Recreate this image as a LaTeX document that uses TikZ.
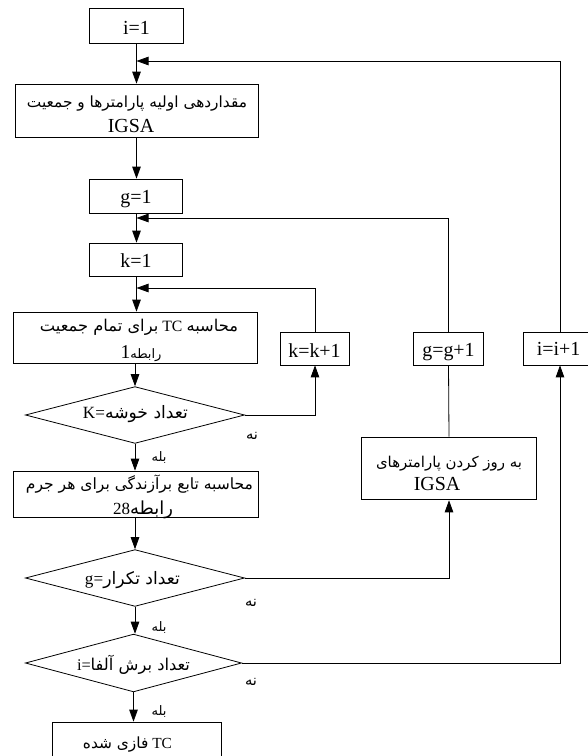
\documentclass[tikz,border=0pt]{standalone}
\usepackage{graphicx}
\usepackage{fontspec}
\setmainfont{Liberation Serif}
\newfontfamily\fa[Script=Arabic]{DejaVu Sans}
\TeXXeTstate=1
\usetikzlibrary{arrows.meta,shapes.geometric}
\newcommand\FA[1]{{\fa\beginR #1\endR}}
\newcommand\RW[2]{\resizebox{#1bp}{!}{#2}}
\newcommand\SZ[2]{{\fontsize{#1}{#1}\selectfont #2}}
\begin{document}
\begin{tikzpicture}[x=1bp,y=-1bp,
  box/.style={draw, line width=0.8bp, inner sep=0pt},
  dia/.style={draw, diamond, line width=0.8bp, inner sep=0pt, minimum width=220, minimum height=57},
  txt/.style={anchor=base, inner sep=0pt, font=\fontsize{20}{24}\selectfont},
  lab/.style={inner sep=0pt, font=\fontsize{13}{13}\selectfont},
  ln/.style={line width=0.8bp},
  arr/.style={line width=0.8bp, -{Triangle[length=12bp,width=8.5bp]}}]
\useasboundingbox (0,0) rectangle (588,756);
% ---------- shapes, left column
\node[box, minimum width=95, minimum height=35] (i1) at (136.5,25.5) {};
\node[box, minimum width=244, minimum height=53] (init) at (137,110.5) {};
\node[box, minimum width=94, minimum height=34] (g1) at (136,196) {};
\node[box, minimum width=94, minimum height=33] (k1) at (136,259.5) {};
\node[box, minimum width=245, minimum height=51] (tc) at (135.5,337.5) {};
\node[dia] (d1) at (135,415) {};
\node[box, minimum width=246, minimum height=46] (fit) at (136,494) {};
\node[dia] (d2) at (135,578) {};
\node[dia, minimum width=217, minimum height=58] (d3) at (133.5,663) {};
\node[box, minimum width=170, minimum height=36] (fin) at (137,740) {};
% ---------- shapes, right column
\node[box, minimum width=70, minimum height=33] (kk) at (315,348.5) {};
\node[box, minimum width=71, minimum height=33] (gg) at (448.5,348.5) {};
\node[box, minimum width=74, minimum height=33] (ii) at (560,348.5) {};
\node[box, minimum width=176, minimum height=63] (upd) at (449,468.5) {};
% ---------- texts
\node[txt] (t-i1) at (136.5,35) {i=1};
\node[txt] (t-init1) at (137,107) {\RW{220}{\FA{مقداردهی اولیه پارامترها و جمعیت}}};
\node[txt] (t-init2) at (131,132) {IGSA};
\node[txt] (t-g1) at (136,203) {g=1};
\node[txt] (t-k1) at (136,267) {k=1};
\node[txt] (t-tc1) at (139,331) {\RW{198}{\SZ{15.5}{\FA{برای تمام جمعیت} \SZ{15}{TC} \FA{محاسبه}}}};
\node[txt] (t-tc2) at (141,358) {\RW{41}{\SZ{21}{1}\SZ{14}{\FA{رابطه}}}};
\node[txt] (t-d1) at (135.5,418) {\RW{105}{K=\FA{تعداد خوشه}}};
\node[txt] (t-fit1) at (139.5,489) {\RW{227}{\FA{محاسبه تابع برآزندگی برای هر جرم}}};
\node[txt] (t-fit2) at (143,514) {\RW{60}{\SZ{18}{28}\SZ{19}{\FA{رابطه}}}};
\node[txt] (t-d2) at (132.5,584) {\RW{95}{g=\FA{تعداد تکرار}}};
\node[txt] (t-d3) at (133.5,670) {\RW{113}{i=\FA{تعداد برش آلفا}}};
\node[txt] (t-fin) at (127.5,748) {\RW{89}{\FA{فازی شده} TC}};
\node[txt] (t-kk) at (314.5,357) {k=k+1};
\node[txt] (t-gg) at (448.5,356) {g=g+1};
\node[txt] (t-ii) at (558.5,355) {i=i+1};
\node[txt] (t-upd1) at (449,467) {\RW{146}{\FA{به روز کردن پارامترهای}}};
\node[txt] (t-upd2) at (437,490) {IGSA};
% ---------- yes / no labels
\node[lab] (no1) at (252,436) {\RW{12}{\FA{نه}}};
\node[lab] (no2) at (251,603) {\RW{12}{\FA{نه}}};
\node[lab] (no3) at (251,682) {\RW{12}{\FA{نه}}};
\node[lab] (ye1) at (159,457) {\RW{15}{\FA{بله}}};
\node[lab] (ye2) at (159,627) {\RW{15}{\FA{بله}}};
\node[lab] (ye3) at (159,711) {\RW{15}{\FA{بله}}};
% ---------- join points on the main line
\coordinate (j1) at (136.5,61);
\coordinate (j2) at (136.5,218);
\coordinate (j3) at (136.5,288);
% ---------- main flow
\draw[arr] (i1.south) -- (i1.south |- init.north);
\draw[arr] (i1.south |- init.south) -- (i1.south |- g1.north);
\draw[arr] (i1.south |- g1.south) -- (i1.south |- k1.north);
\draw[arr] (i1.south |- k1.south) -- (i1.south |- tc.north);
\draw[arr] (d1.north |- tc.south) -- (d1.north);
\draw[arr] (d1.south) -- (d1.south |- fit.north);
\draw[arr] (d2.north |- fit.south) -- (d2.north);
\draw[arr] (d2.south) -- (d2.south |- d3.north);
\draw[arr] (d3.south) -- (d3.south |- fin.north);
% ---------- loops
\draw[arr] (d1.east) -| (kk.south);
\draw[arr] (kk.north) |- (j3);
\draw[arr] (d2.east) -| (upd.south);
\draw[ln] (upd.north) -- (gg.south);
\draw[arr] (gg.north) |- (j2);
\draw[arr] (d3.east) -| (ii.south);
\draw[arr] (ii.north) |- (j1);
\end{tikzpicture}
\end{document}
